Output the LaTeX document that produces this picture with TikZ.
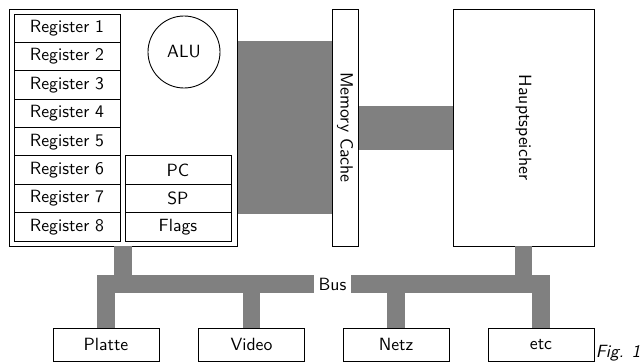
\documentclass[tikz,border=0pt]{standalone}
\usepackage{tikz}
\usetikzlibrary{positioning,backgrounds}
\newcommand{\px}{0.565pt}

\begin{document}
\begin{tikzpicture}[x=\px, y=-\px, font=\sffamily, line width=0.5pt,
    reg/.style={draw, inner sep=0pt, outer sep=0pt,
      minimum width=106*\px, minimum height=28.375*\px},
    device/.style={draw, inner sep=0pt, outer sep=0pt,
      minimum width=106*\px, minimum height=33*\px},
    tall/.style={draw, inner sep=0pt, outer sep=0pt, minimum height=237*\px},
    bus/.style={draw=gray, line width=9.9pt}]
  \useasboundingbox (0,0) rectangle (643,364);

  % processor
  \node[tall, minimum width=228*\px] (cpu) at (123,127.5) {};
  \node[reg] (reg1) at (67,28.2) {Register 1};
  \foreach \i [remember=\i as \prev (initially 1)] in {2,...,8}
    \node[reg, below=0pt of reg\prev] (reg\i) {Register \i};
  \node[reg, right=2.8pt of reg6] (pc) {PC};
  \node[reg, below=0pt of pc] (sp) {SP};
  \node[reg, below=0pt of sp] (flags) {Flags};
  \node[draw, circle, inner sep=0pt, minimum size=72*\px] (alu) at (184,52) {ALU};

  % memory
  \node[tall, minimum width=26*\px] (cache) at (345,127.5) {};
  \node[rotate=-90] (cachetext) at (cache.center) {Memory Cache};
  \node[tall, minimum width=141*\px] (ram) at (523.5,127.5) {};
  \node[rotate=-90] (ramtext) at (ram.center) {Hauptspeicher};

  % devices
  \node[device] (platte) at (106,344.5) {Platte};
  \node[device] (video) at (251.5,344.5) {Video};
  \node[device] (netz) at (396,344.5) {Netz};
  \node[device] (etc) at (541,344.5) {etc};
  \node[inner sep=0pt, minimum width=37*\px] (bus) at (332.5,284) {Bus};
  \node[font=\sffamily\itshape, anchor=base east, inner sep=0pt] (fig) at (641,358) {Fig. 1};

  % wide connections
  \begin{scope}[on background layer]
    \fill[gray] (cpu.east |- 0,41) rectangle (cache.west |- 0,214);
    \fill[gray] (cache.east |- 0,106) rectangle (ram.west |- 0,150);
  \end{scope}

  % bus
  \draw[bus] (platte.north) |- (bus.west);
  \draw[bus] (bus.east) -| (etc.north);
  \draw[bus] (cpu.south) -- (cpu.south |- bus.center);
  \draw[bus] (ram.south) -- (ram.south |- bus.center);
  \draw[bus] (video.north) -- (video.north |- bus.center);
  \draw[bus] (netz.north) -- (netz.north |- bus.center);
\end{tikzpicture}
\end{document}
